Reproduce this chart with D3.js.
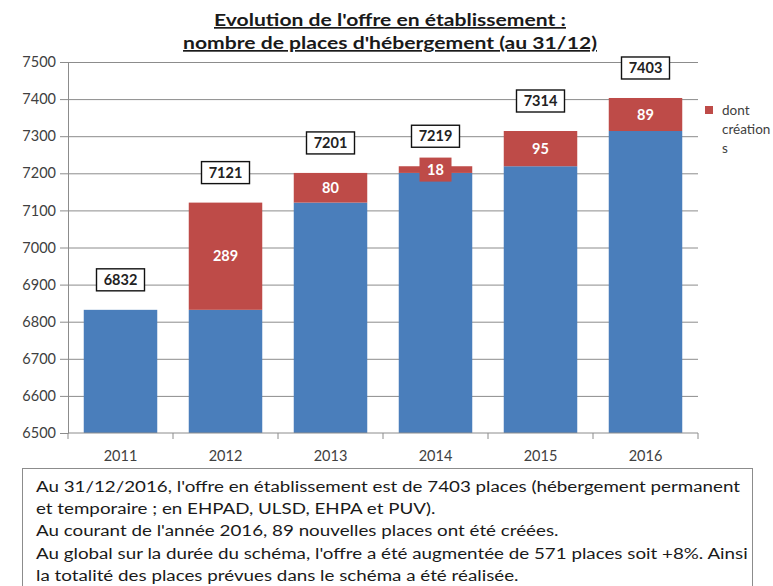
<!DOCTYPE html>
<html>
<head>
<meta charset="utf-8">
<script src="https://cdn.jsdelivr.net/npm/d3@7"></script>
<style>
  body { margin: 0; background: #fff; }
  svg { display: block; font-family: Lato, "Open Sans", sans-serif; }
</style>
</head>
<body>
<div id="chart"></div>
<script>
// chart values
var years = ['2011', '2012', '2013', '2014', '2015', '2016'];
var totals = [6832, 7121, 7201, 7219, 7314, 7403];
var creations = [0, 289, 80, 18, 95, 89];
var yTicks = [6500, 6600, 6700, 6800, 6900, 7000, 7100, 7200, 7300, 7400, 7500];
var titleLines = ["Evolution de l'offre en établissement :", "nombre de places d'hébergement (au 31/12)"];
var legendLines = ['dont', 'création', 's'];
var noteLines = [
	"Au 31/12/2016,  l'offre en établissement est de  7403 places (hébergement permanent",
	"et temporaire ;  en EHPAD, ULSD, EHPA et PUV).",
	"Au courant de l'année 2016, 89 nouvelles places ont été créées.",
	"Au global sur la durée du schéma, l'offre a été augmentée de 571 places soit +8%.  Ainsi",
	"la totalité des places prévues dans le schéma a été réalisée."
];

const WIDTH = 773;
const HEIGHT = 586;
const BLUE = '#4a7ebb';
const RED = '#be4b48';

var rows = years.map(function (y, i) {
	return { year: y, total: totals[i], add: creations[i], base: totals[i] - creations[i] };
});

var svg = d3.select('#chart').append('svg')
	.attr('width', WIDTH)
	.attr('height', HEIGHT);

var x = d3.scaleBand().domain(years).range([68, 698]).paddingInner(0.3).paddingOuter(0.15);
var y = d3.scaleLinear().domain([6500, 7500]).range([433, 62]);

// stretch a group of text lines so the first one gets the wanted width
function stretch (sel, firstWidth) {
	var k = firstWidth / sel.node().getComputedTextLength();
	sel.each(function () {
		d3.select(this)
			.attr('lengthAdjust', 'spacingAndGlyphs')
			.attr('textLength', this.getComputedTextLength() * k);
	});
}

// title
var title = svg.selectAll('text.title').data(titleLines)
	.enter().append('text')
	.attr('class', 'title')
	.attr('x', 390)
	.attr('y', function (d, i) { return 26 + i * 23; })
	.attr('text-anchor', 'middle')
	.style('font-size', '17px')
	.style('font-weight', 'bold')
	.style('text-decoration', 'underline')
	.attr('fill', '#1a1a1a')
	.text(function (d) { return d; });
stretch(title, 352);

// grid + y axis
var yAxis = svg.append('g')
	.attr('transform', 'translate(68,0)')
	.call(d3.axisLeft(y).tickValues(yTicks).tickSize(8).tickPadding(4).tickFormat(d3.format('d')));
yAxis.select('.domain').attr('stroke', '#8c8c8c');
yAxis.selectAll('.tick line').attr('stroke', '#8c8c8c');
yAxis.selectAll('.tick text').style('font-size', '14.5px').attr('fill', '#404040').style('font-family', 'Lato, sans-serif');
yAxis.selectAll('.tick').filter(function (d) { return d > 6500; })
	.append('line')
	.attr('x1', 0).attr('x2', 630)
	.attr('stroke', '#8c8c8c');

// bars
var bars = svg.append('g').selectAll('g').data(rows).enter().append('g');
bars.append('rect')
	.attr('x', function (d) { return x(d.year); })
	.attr('width', x.bandwidth())
	.attr('y', function (d) { return y(d.base); })
	.attr('height', function (d) { return y(6500) - y(d.base); })
	.attr('fill', BLUE);
bars.filter(function (d) { return d.add > 0; }).append('rect')
	.attr('x', function (d) { return x(d.year); })
	.attr('width', x.bandwidth())
	.attr('y', function (d) { return y(d.total); })
	.attr('height', function (d) { return y(d.base) - y(d.total); })
	.attr('fill', RED);

// x axis
var xAxis = svg.append('g').attr('transform', 'translate(0,433)');
xAxis.append('line').attr('x1', 68).attr('x2', 698).attr('stroke', '#8c8c8c');
var step = x.step();
d3.range(years.length + 1).forEach(function (i) {
	var xx = 68 + i * step;
	xAxis.append('line').attr('x1', xx).attr('x2', xx).attr('y1', 0).attr('y2', 6).attr('stroke', '#8c8c8c');
});
xAxis.selectAll('text').data(years).enter().append('text')
	.attr('x', function (d) { return x(d) + x.bandwidth() / 2; })
	.attr('y', 28)
	.attr('text-anchor', 'middle')
	.style('font-size', '14.5px')
	.attr('fill', '#404040')
	.text(function (d) { return d; });

// creation labels
var addLabels = svg.append('g').selectAll('g').data(rows.filter(function (d) { return d.add > 0; }))
	.enter().append('g')
	.attr('transform', function (d) {
		return 'translate(' + (x(d.year) + x.bandwidth() / 2) + ',' + ((y(d.base) + y(d.total)) / 2) + ')';
	});
addLabels.filter(function (d) { return y(d.base) - y(d.total) < 20; })
	.append('rect')
	.attr('x', -16).attr('y', -12).attr('width', 32).attr('height', 24)
	.attr('fill', RED);
addLabels.append('text')
	.attr('text-anchor', 'middle')
	.attr('dy', '0.36em')
	.style('font-size', '14.5px')
	.style('font-weight', 'bold')
	.attr('fill', '#fff')
	.text(function (d) { return d.add; });

// total labels
var totLabels = svg.append('g').selectAll('g').data(rows).enter().append('g')
	.attr('transform', function (d) {
		return 'translate(' + (x(d.year) + x.bandwidth() / 2) + ',' + (y(d.total) - 30) + ')';
	});
totLabels.append('rect')
	.attr('x', -24).attr('y', -11).attr('width', 48).attr('height', 22)
	.attr('fill', '#fff').attr('stroke', '#111').attr('stroke-width', 1.4);
totLabels.append('text')
	.attr('text-anchor', 'middle')
	.attr('dy', '0.36em')
	.style('font-size', '14.5px')
	.style('font-weight', 'bold')
	.attr('fill', '#222')
	.text(function (d) { return d.total; });

// legend
svg.append('rect').attr('x', 705).attr('y', 106).attr('width', 8).attr('height', 8).attr('fill', RED);
svg.selectAll('text.legend').data(legendLines).enter().append('text')
	.attr('class', 'legend')
	.attr('x', 722)
	.attr('y', function (d, i) { return 115 + i * 19; })
	.style('font-size', '13.5px')
	.attr('fill', '#404040')
	.text(function (d) { return d; });

// note box
svg.append('rect')
	.attr('x', 22.5).attr('y', 468.5).attr('width', 730).attr('height', 130)
	.attr('fill', '#fff').attr('stroke', '#8c8c8c');
var notes = svg.selectAll('text.note').data(noteLines).enter().append('text')
	.attr('class', 'note')
	.attr('x', 36)
	.attr('y', function (d, i) { return 492 + i * 22.2; })
	.style('font-size', '15.5px')
	.attr('fill', '#1a1a1a')
	.text(function (d) { return d; });
stretch(notes, 704);
</script>
</body>
</html>
